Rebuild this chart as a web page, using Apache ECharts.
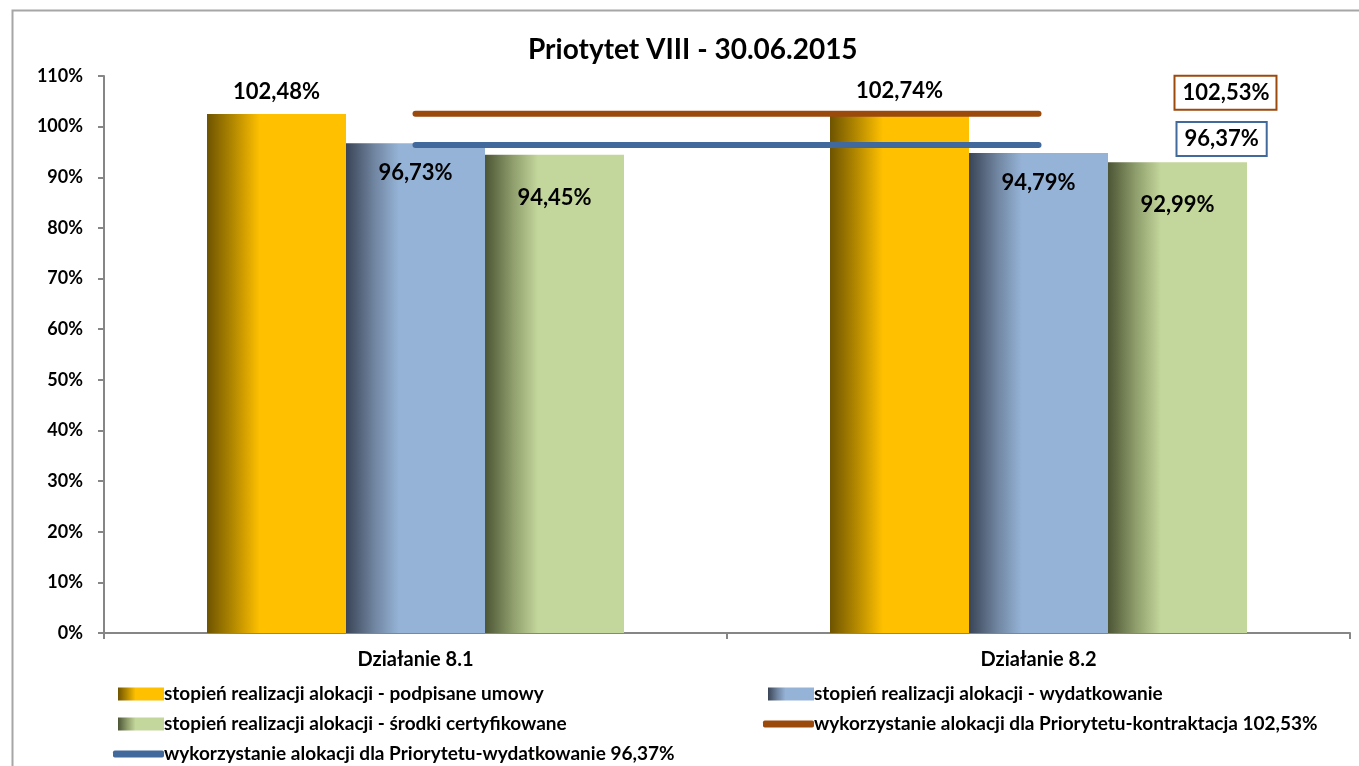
<!DOCTYPE html>
<html><head><meta charset="utf-8">
<script src="https://cdn.jsdelivr.net/npm/echarts@6/dist/echarts.min.js"></script>
<style>html,body{margin:0;padding:0;background:#fff}#c{width:1359px;height:766px}</style>
</head><body><div id="c"></div>
<script>
const titleText = 'Priotytet VIII - 30.06.2015';
const categories = ['Działanie 8.1', 'Działanie 8.2'];
const seriesNames = [
  'stopień realizacji alokacji - podpisane umowy',
  'stopień realizacji alokacji - wydatkowanie',
  'stopień realizacji alokacji - środki certyfikowane',
  'wykorzystanie alokacji dla Priorytetu-kontraktacja 102,53%',
  'wykorzystanie alokacji dla Priorytetu-wydatkowanie 96,37%'
];
const podpisane = [102.48, 102.74];
const wydatkowanie = [96.73, 94.79];
const certyfikowane = [94.45, 92.99];
const kontraktacja = [102.53, 102.53];
const wydatkowaniePriorytet = [96.37, 96.37];
const yTicks = [0, 10, 20, 30, 40, 50, 60, 70, 80, 90, 100, 110];

const FONT = 'Lato';
const fmt = v => v.toFixed(2).replace('.', ',') + '%';

function grad(dark, mid, light) {
  return new echarts.graphic.LinearGradient(0, 0, 1, 0, [
    {offset: 0, color: dark},
    {offset: 0.2, color: mid},
    {offset: 0.38, color: light},
    {offset: 1, color: light}
  ]);
}
const yellowFill = grad('#6e5400', '#b88c00', '#FFC000');
const blueFill = grad('#3a4456', '#6f849f', '#95B3D7');
const greenFill = grad('#4c5535', '#8f9e6c', '#C3D69B');
const BROWN = '#9C4A0C', BLUE = '#41699C';

const chart = echarts.init(document.getElementById('c'));
const lbl = {fontFamily: FONT, fontWeight: 'bold', fontSize: 22, color: '#000'};
const legText = {fontFamily: FONT, fontWeight: 'bold', fontSize: 19, lineHeight: 20, color: '#000', padding: [0, 0, 0, -5]};

function legBar(name, left, top) {
  return {
    orient: 'horizontal', left: left, top: top, padding: 0,
    itemWidth: 46, itemHeight: 13, icon: 'rect', textStyle: legText, data: [{name: name}]
  };
}
function legLine(name, left, top, color) {
  return {
    orient: 'horizontal', left: left, top: top, padding: 0,
    itemWidth: 51, itemHeight: 7, icon: 'roundRect', textStyle: legText,
    data: [{name: name, icon: 'roundRect', itemStyle: {color: color}}]
  };
}

chart.setOption({
  animation: false,
  backgroundColor: '#fff',
  textStyle: {fontFamily: FONT},
  graphic: [{
    type: 'rect', shape: {x: 12.5, y: 10.5, width: 1400, height: 800},
    style: {fill: 'none', stroke: '#a6a6a6', lineWidth: 2}, silent: true, z: -10
  }],
  title: {
    text: titleText, left: 523, top: 31,
    textStyle: {fontFamily: FONT, fontWeight: 'bold', fontSize: 28, color: '#000'}
  },
  grid: {left: 104, right: 9, top: 76, bottom: 133, containLabel: false},
  legend: [
    legBar(seriesNames[0], 118, 684),
    legBar(seriesNames[2], 118, 714),
    legLine(seriesNames[4], 113, 744, BLUE),
    legBar(seriesNames[1], 768, 684),
    legLine(seriesNames[3], 763, 714, BROWN)
  ],
  xAxis: {
    type: 'category', data: categories,
    axisLine: {lineStyle: {color: '#868686', width: 2}},
    axisTick: {show: true, length: 6, lineStyle: {color: '#868686', width: 2}},
    axisLabel: {fontFamily: FONT, fontWeight: 'bold', fontSize: 20, color: '#000', margin: 17}
  },
  yAxis: {
    type: 'value', min: 0, max: 110, interval: 10,
    axisLine: {show: true, lineStyle: {color: '#868686', width: 2}},
    axisTick: {show: true, inside: false, length: 6, lineStyle: {color: '#868686', width: 2}},
    splitLine: {show: false},
    axisLabel: {
      fontFamily: FONT, fontWeight: 'bold', fontSize: 18, color: '#000', margin: 21,
      formatter: v => yTicks.includes(v) ? v + '%' : ''
    }
  },
  series: [{
    name: seriesNames[0], type: 'bar', data: podpisane, barWidth: 139, barGap: '0%',
    itemStyle: {color: yellowFill},
    label: {show: true, position: 'top', distance: 11, formatter: p => fmt(p.value), ...lbl}
  }, {
    name: seriesNames[1], type: 'bar', data: wydatkowanie, barWidth: 139, barGap: '0%',
    itemStyle: {color: blueFill},
    label: {show: true, position: 'insideTop', distance: 19, formatter: p => fmt(p.value), ...lbl}
  }, {
    name: seriesNames[2], type: 'bar', data: certyfikowane, barWidth: 139, barGap: '0%',
    itemStyle: {color: greenFill},
    label: {show: true, position: 'insideTop', distance: 32, formatter: p => fmt(p.value), ...lbl}
  }, {
    name: seriesNames[3], type: 'line', data: kontraktacja, symbol: 'none', z: 5,
    lineStyle: {color: BROWN, width: 6, cap: 'round'},
    itemStyle: {color: BROWN},
    endLabel: {
      show: true, formatter: p => fmt(p.value), ...lbl,
      backgroundColor: '#fff', borderColor: BROWN, borderWidth: 2,
      padding: [6, 6, 4, 7], offset: [129, -21]
    }
  }, {
    name: seriesNames[4], type: 'line', data: wydatkowaniePriorytet, symbol: 'none', z: 5,
    lineStyle: {color: BLUE, width: 6, cap: 'round'},
    itemStyle: {color: BLUE},
    endLabel: {
      show: true, formatter: p => fmt(p.value), ...lbl,
      backgroundColor: '#fff', borderColor: BLUE, borderWidth: 2,
      padding: [6, 7, 4, 7], offset: [131, -6]
    }
  }]
});
</script></body></html>
